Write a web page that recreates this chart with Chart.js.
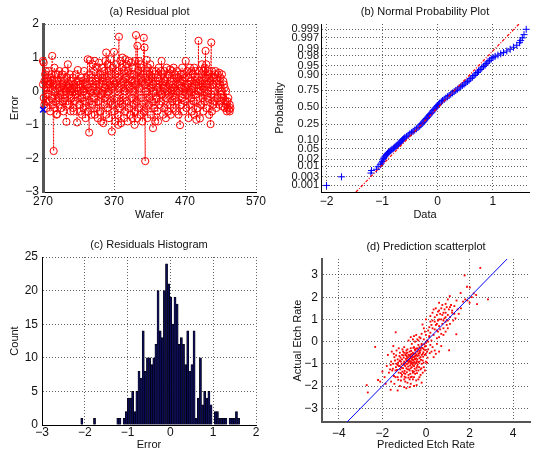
<!DOCTYPE html>
<html><head><meta charset="utf-8">
<script src="https://cdn.jsdelivr.net/npm/chart.js@4"></script>
<style>
html,body{margin:0;padding:0;background:#fff;}
#wrap{position:relative;width:534px;height:455px;overflow:hidden;background:#fff;}
#wrap canvas{position:absolute;left:0;top:0;}
</style></head><body>
<div id="wrap">
<canvas id="ca" width="534" height="455"></canvas>
<canvas id="cb" width="534" height="455"></canvas>
<canvas id="cc" width="534" height="455"></canvas>
<canvas id="cd" width="534" height="455"></canvas>
</div>
<script>
// ---------- (a) Residual plot ----------
const firstWafer = 270;
const residualsByWafer = [
[0.2,0.9],[0.85,-0.2],[0.3,-0.4],[0.5],[-0.3,0.6],[0.1,-0.5],[0.4],[-0.1,0.3],[0.6,-0.3],[0.2],
[-0.6,0.4],[0.1],[0.5,-0.2],[1.05,0.3],[-0.4],[-1.78,0.2],[0.7,-0.5],[0.0],[-0.3,0.5],[0.2,-0.7],
[-0.68,0.3],[0.5],[-0.2,0.1],[0.6,-0.4],[0.0],[0.4,-0.1],[-0.5],[0.2,0.5],[-0.3],[0.1,-0.6],
[0.3],[-0.2,0.6],[0.0],[-0.91,0.2],[0.4,-0.3],[0.8,0.1],[-0.4],[0.2,-0.1],[0.5],[-0.6,0.0],
[0.3,-0.2],[0.1],[-0.5,0.4],[-0.6],[0.2,0.0],[-0.3],[0.5,-0.1],[0.1],[-0.93,0.3],[0.63,-0.2],
[0.0],[-0.4,0.3],[0.2],[-0.6,0.1],[0.4],[-0.2,-0.7],[0.3],[0.0,-0.5],[0.6],[-0.3,0.2],
[-0.8],[0.4,-0.1],[0.2],[0.95,-0.6],[0.1],[-1.23,0.5],[0.92,-0.3],[0.0],[-0.7,0.4],[0.3],
[-0.4,0.8],[0.1],[-0.2,0.6],[0.9,-0.7],[0.3],[-0.5,0.2],[0.7],[-0.8,0.0],[0.4,-0.3],[0.85],
[-0.6,0.2],[0.5],[-0.1,-0.9],[0.7],[0.0,0.4],[-0.95,0.3],[0.6],[-0.4,0.1],[0.9,-0.2],[1.15,-0.7],
[0.3],[-0.5,0.8],[0.0],[0.6,-0.8],[0.2],[-0.3,0.95],[0.5],[-1.2,0.1],[0.7,-0.4],[0.3],
[1.17,-0.6],[0.2],[-0.9,0.5],[0.8],[-0.2,0.3],[0.6,-0.7],[-1.0,0.4],[1.62,0.1],[-0.5],[0.9,-0.3],
[0.2,-0.95],[0.7],[-0.4,1.0],[0.3],[-0.8,0.6],[0.0],[0.95,-0.6],[0.4],[-0.3,0.8],[-0.9,0.2],
[0.6],[-0.5,0.9],[0.1],[-0.7,0.5],[0.85],[-0.2,0.3],[0.7,-0.8],[0.0],[0.5,-0.4],[-1.0,0.3],
[0.9,-0.6],[1.67,0.2],[-0.3],[1.35,-0.8],[0.6],[-0.5,0.9],[0.1],[0.8,-0.7],[-0.2,0.4],[0.7],
[-0.9,0.3],[0.5],[1.59,-0.6],[1.3,0.2],[-2.08,0.4],[0.0,-0.5],[0.93,0.6],[-0.8],[0.3,0.7],[-0.4],
[0.5,-0.2],[0.8],[-0.7,0.1],[0.4],[-0.3,0.6],[-1.1,0.2],[0.0],[0.5,-0.5],[-0.9],[0.3,0.6],
[-0.2],[0.4,-0.6],[-0.9,0.1],[0.7],[-0.4,0.3],[0.0],[0.6,-0.3],[0.9,-0.1],[0.2],[-0.7,0.5],
[0.1],[-0.5,0.6],[0.3],[-0.2,-0.8],[0.7],[0.0,0.4],[-0.6],[0.5,-0.1],[0.2],[-0.4,0.65],
[0.3,-0.7],[0.0],[0.6,-0.3],[0.2],[-0.5,0.7],[0.1],[-0.2,0.5],[-0.6],[0.4,0.0],[-0.3,0.6],
[0.2],[-0.7,0.4],[0.0],[-1.01,0.3],[0.5],[-0.4,0.1],[0.7,-0.2],[0.3],[-0.6,0.5],[0.0],
[0.4,-0.3],[0.9,0.1],[-0.5],[0.6,-0.1],[0.2],[-0.8,0.4],[0.0],[0.7,-0.4],[0.3],[-0.2,0.6],
[-0.6],[0.5,0.1],[-0.3],[0.7,-0.7],[0.2],[-0.1,0.6],[-0.85,0.3],[0.4],[0.0,-0.5],[1.5,0.2],
[0.6],[-0.81,0.3],[0.0],[0.5,-0.4],[0.8],[-0.2,0.2],[0.6,-0.6],[0.1],[0.7,-0.3],[1.2,0.4],
[-0.5,0.8],[0.2],[-0.2,0.6],[0.0],[0.4,-0.7],[0.5],[-0.98,0.3],[1.45,-0.1],[-0.6,0.6],[0.2],
[0.4,-0.4],[0.0],[-0.3,0.5],[0.6],[-0.5,0.2],[0.3],[0.5,-0.2],[0.1],[-0.4,0.55],[0.2],
[0.4,-0.3],[-0.1],[0.5,0.0],[-0.45],[0.3,-0.2],[0.2],[-0.5,0.1],[-0.3],[0.0,-0.4],[-0.6],
[-0.3,-0.5],[-0.2],[-0.55],[-0.6,-0.4],[-0.5]
];
const markedWafer = [270];
const markedError = [-0.55];
const waferTicks = [270, 370, 470, 570];
const errorTicks = [-3, -2, -1, 0, 1, 2];

// ---------- (b) Normal probability plot: [data value, normal quantile] ----------
const probPoints = [
[-2.0,-3.09],[-1.73,-2.75],[-1.2,-2.6],[-1.19,-2.5],[-1.1,-2.45],[-1.07,-2.35],[-1.03,-2.27],[-1.01,-2.2],
[-0.99,-2.14],[-0.98,-2.08],[-0.97,-2.02],[-0.96,-1.97],[-0.94,-1.92],[-0.92,-1.87],[-0.9,-1.82],[-0.88,-1.78],
[-0.86,-1.74],[-0.84,-1.7],[-0.82,-1.66],[-0.79,-1.62],[-0.77,-1.58],[-0.75,-1.54],[-0.73,-1.5],[-0.71,-1.46],
[-0.69,-1.42],[-0.67,-1.38],[-0.65,-1.33],[-0.63,-1.28],[-0.61,-1.24],[-0.59,-1.2],[-0.56,-1.15],[-0.53,-1.1],
[-0.5,-1.05],[-0.47,-1.0],[-0.44,-0.95],[-0.41,-0.9],[-0.38,-0.85],[-0.35,-0.79],[-0.32,-0.74],[-0.3,-0.69],
[-0.28,-0.64],[-0.26,-0.59],[-0.24,-0.54],[-0.22,-0.49],[-0.2,-0.44],[-0.18,-0.39],[-0.16,-0.34],[-0.14,-0.29],
[-0.12,-0.24],[-0.1,-0.19],[-0.08,-0.13],[-0.06,-0.08],[-0.04,-0.03],[-0.02,0.02],[0.0,0.07],[0.02,0.12],
[0.04,0.17],[0.07,0.22],[0.09,0.27],[0.12,0.32],[0.15,0.37],[0.18,0.42],[0.21,0.47],[0.24,0.52],
[0.27,0.57],[0.3,0.62],[0.33,0.67],[0.36,0.72],[0.39,0.77],[0.42,0.82],[0.45,0.87],[0.48,0.92],
[0.51,0.97],[0.54,1.02],[0.57,1.08],[0.6,1.14],[0.63,1.2],[0.66,1.26],[0.69,1.32],[0.72,1.38],
[0.74,1.44],[0.77,1.5],[0.8,1.56],[0.83,1.62],[0.86,1.68],[0.88,1.74],[0.91,1.8],[0.94,1.86],
[0.97,1.92],[1.0,1.97],[1.04,2.02],[1.09,2.07],[1.14,2.12],[1.19,2.17],[1.25,2.23],[1.31,2.3],
[1.37,2.38],[1.43,2.46],[1.48,2.56],[1.5,2.65],[1.53,2.75],[1.56,2.88],[1.6,3.09]
];
const probRefLine = [[-1.47,-3.35],[1.47,3.3]];
const probTickLabels = ['0.001','0.003','0.01','0.02','0.05','0.10','0.25','0.50','0.75','0.90','0.95','0.98','0.99','0.997','0.999'];
const probTickQuantiles = [-3.090,-2.748,-2.326,-2.054,-1.645,-1.282,-0.674,0,0.674,1.282,1.645,2.054,2.326,2.748,3.090];
const dataTicks = [-2, -1, 0, 1];

// ---------- (c) Residuals histogram ----------
const histFirstCenter = -2.07;
const histBinWidth = 0.0495;
const histCounts = [
1,0,0,0,0,0,1,0,0,0,
0,0,0,0,0,0,0,1,1,0,
1,2,4,4,5,2,5,8,7,14,
8,10,10,9,10,12,20,14,13,20,
24,21,19,15,19,18,12,13,12,9,
14,8,9,14,1,4,10,3,5,4,
5,3,0,2,2,1,1,1,1,0,
1,1,1,2,1
];
const histXTicks = [-3, -2, -1, 0, 1, 2];
const histYTicks = [0, 5, 10, 15, 20, 25];

// ---------- (d) Prediction scatterplot: [predicted, actual] ----------
const scatterPairs = [
[2.49,3.32],[1.77,2.98],[1.88,2.47],[2.01,2.44],[2.84,1.9],[2.34,1.69],[2.19,2.17],[1.59,2.19],[1.09,2.05],
[-2.33,-0.24],[-1.39,0.42],[-2.72,-1.96],[-2.67,-2.29],[-2.2,-1.73],[-1.62,-2.17],[-0.43,-1.96],[1.06,-0.39],
[1.39,0.33],[-0.16,0.77],
[2.1,2.0],[1.9,1.85],[1.6,1.5],[1.45,1.45],[1.3,1.6],[1.2,1.3],[1.0,1.9],[0.9,1.7],[1.1,1.1],[1.35,1.05],
[1.5,1.25],[1.7,1.8],[2.3,2.1],[2.0,1.75],[1.8,1.9],
[0.2,0.4],[0.4,0.9],[0.5,1.2],[0.6,0.7],[0.7,1.0],[0.8,1.3],[0.9,0.9],[1.0,1.2],[0.3,0.6],[0.5,0.5],
[0.6,1.4],[0.8,0.6],[0.4,1.1],[0.7,1.5],[0.9,1.1],[1.1,0.8],[0.2,0.9],[0.35,0.3],[0.55,0.95],[0.75,0.8],
[0.65,1.25],[0.85,1.45],[0.45,0.75],[1.0,0.6],[0.3,1.3],[0.15,0.2],[0.6,0.2],[0.8,0.3],[1.2,1.4],[0.95,1.55],
[0.5,-0.1],[0.4,-0.4],[0.7,-0.2],[0.3,-0.25],[0.1,0.5],[0.0,1.0],[0.25,0.05],[0.0,0.3],[-0.1,0.6],[0.45,1.5],
[0.75,1.2],[1.25,0.95],[0.55,0.45],[0.9,0.45],
[-0.3,0.2],[-0.2,-0.1],[-0.1,0.1],[0.0,-0.2],[0.1,0.0],[-0.4,-0.3],[-0.5,0.0],[-0.3,-0.5],[-0.2,0.35],
[0.05,-0.45],[-0.15,-0.3],[-0.45,0.3],[-0.6,0.1],[-0.05,-0.6],[0.1,-0.35],[-0.35,-0.15],[-0.25,-0.7],
[0.2,-0.15],[-0.55,-0.25],[-0.7,0.2],[-0.15,-0.85],[0.15,0.25],[-0.65,-0.1],[-0.4,0.1],
[-1.5,-1.0],[-1.4,-1.3],[-1.3,-0.8],[-1.2,-1.1],[-1.1,-0.6],[-1.0,-0.9],[-0.9,-1.2],[-0.8,-0.7],[-0.7,-1.0],
[-0.6,-0.5],[-0.5,-0.8],[-0.4,-1.1],[-0.3,-0.9],
[-1.45,-0.7],[-1.35,-1.0],[-1.25,-1.4],[-1.15,-0.9],[-1.05,-1.2],[-0.95,-0.6],[-0.85,-1.0],[-0.75,-1.3],
[-0.65,-0.8],[-0.55,-1.1],[-0.45,-0.6],[-0.35,-1.3],[-0.25,-0.4],
[-1.55,-1.3],[-1.3,-1.6],[-1.2,-0.5],[-1.1,-1.5],[-1.0,-1.7],[-0.9,-0.4],[-0.8,-1.5],[-0.7,-0.3],[-0.6,-1.4],
[-0.5,-0.4],[-0.4,-0.8],[-0.3,-1.6],[-0.2,-1.0],
[-1.25,-0.3],[-1.15,-1.75],[-1.05,-0.45],[-0.95,-1.45],[-0.85,-0.5],[-0.75,-1.7],[-0.65,-0.55],[-0.55,-1.6],
[-0.45,-1.3],[-0.35,-0.55],[-0.25,-1.25],[-0.15,-1.4],
[-1.0,-1.05],[-0.9,-0.85],[-0.8,-0.95],[-0.7,-0.75],[-0.6,-0.95],[-0.5,-0.65],[-0.4,-0.45],[-0.3,-0.75],
[-0.95,-1.1],[-0.85,-0.75],[-0.75,-0.9],[-0.65,-1.15],[-0.55,-0.7],[-0.45,-0.95],[-0.35,-0.35],
[-1.1,-0.8],[-1.0,-0.5],[-0.9,-1.0],[-0.8,-0.6],[-0.7,-1.2],[-0.6,-0.7],[-0.5,-1.0],[-0.4,-0.65],[-0.3,-0.25],[-0.2,-0.6],
[-1.6,-0.9],[-1.7,-1.4],[-1.8,-1.1],[-1.9,-1.6],[-1.75,-0.6],[-1.6,-1.8],[-1.45,-1.9],[-1.35,-0.4],[-1.5,-0.2],
[-1.2,-2.0],[-1.0,-2.05],[-0.85,-1.85],[-0.7,-1.9],[-0.55,-2.0],[-0.45,-1.75],[-0.25,-1.5],[-0.1,-1.15],[0.0,-0.9],
[-0.05,-1.3],[-2.0,-1.35],[-2.1,-1.8],[-1.85,-1.9],[-1.3,-2.2],[-0.9,-2.1],[-0.6,-1.7],
[-0.78,-0.82],[-0.72,-0.65],[-0.68,-0.92],[-0.62,-0.62],[-0.88,-0.68],[-0.92,-0.78],[-0.58,-0.85],[-0.82,-1.12],
[-1.02,-0.72],[-0.48,-0.52],[-0.52,-1.22],[-0.42,-0.88],[-1.12,-1.02],[-1.18,-1.25],[-0.98,-1.32],[-0.38,-1.02],
[-0.28,-0.5],[-0.18,-0.28],[-0.12,-0.48],[-0.08,-0.12],
[-1.28,-0.95],[-1.38,-1.15],[-1.42,-0.85],[-1.22,-0.65],[-1.08,-0.35],[-0.68,-0.42],[-0.58,-0.28],[-0.62,-1.32],
[-0.72,-1.45],[-0.78,-1.25],[-0.88,-1.38],[-0.98,-1.58],[-1.08,-1.35],[-0.5,-1.45],[-0.32,-1.15],
[-1.62,-1.05],[-1.52,-1.22],[-1.48,-0.55],[-1.33,-1.28],[-1.27,-1.72],[-1.17,-0.72],[-1.13,-1.58],[-1.03,-0.98],
[-0.93,-1.62],[-0.83,-0.88],[-0.73,-1.08],[-0.63,-0.72],[-0.53,-0.92],[-0.43,-1.18],[-0.33,-0.62],[-0.23,-0.82],
[-0.13,-0.68],[-0.03,-0.38],[0.07,-0.72],[0.17,-0.52],
[-1.57,-0.45],[-1.47,-1.55],[-1.37,-0.62],[-1.21,-0.88],[-1.11,-1.18],[-1.01,-1.42],[-0.91,-0.52],[-0.81,-1.62],
[-0.71,-0.58],[-0.61,-1.05],[-0.51,-0.35],[-0.41,-1.42],[-0.31,-0.42],[-0.21,-1.2],[-0.11,-0.95],[-0.01,-0.55],
[-1.05,-0.62],[-0.95,-0.95],[-0.85,-1.25],[-0.75,-0.62],[-0.65,-0.98],[-0.55,-0.55],[-0.45,-0.75],[-0.35,-0.92],
[-0.25,-0.32],[-0.15,-0.55],[-0.05,-0.22],[0.05,0.05],
[-1.25,-1.1],[-1.15,-1.42],[-0.95,-1.8],[-0.75,-2.05],[-0.65,-1.58],[-0.35,-1.7],[-0.2,-1.85],[-1.4,-1.6],[-1.65,-1.25],
[0.3,0.95],[0.55,1.35],[0.65,0.55],[0.85,1.05],[1.05,1.45],[1.15,1.65],[0.95,0.75],[0.4,0.55],[0.6,1.0],[0.75,1.65],
[0.25,0.75],[0.5,0.8],[1.3,1.25],[1.4,1.85],[0.7,0.35],[0.2,1.15],[0.15,0.65],[-0.05,0.45],[0.35,1.45],[0.6,1.75],
[0.9,1.3],[1.1,1.55],[0.45,-0.55],[0.35,-0.7],[0.6,-0.45],[0.5,0.15],[0.8,0.95],[1.0,0.95],[0.25,-0.45],[0.05,-0.95],
[-0.9,-0.62],[-0.8,-0.82],[-0.7,-0.88],[-0.6,-0.82],[-0.5,-0.78],[-0.75,-0.45],[-0.85,-0.35],[-0.45,-0.32],
[-0.55,-1.35],[-0.7,-1.6],[-1.0,-0.25],[-1.2,-0.85],[-1.3,-1.05],[-0.2,-0.15],[-0.1,-0.35],[0.0,-0.05],
[-0.35,0.05],[-0.25,0.15],[-0.55,0.25],[-0.8,0.05]
];
const identityLineEnds = [-5, 5];
const predictedTicks = [-4, -2, 0, 2, 4];
const actualTicks = [-3, -2, -1, 0, 1, 2, 3];

// ---------- drawing ----------
const FAMILY = "'Liberation Sans', Arial, Helvetica, sans-serif";
const TEXT = '#111';
const GRID = 'rgba(0,0,0,0.62)';
const TITLE_SIZE = 11, LABEL_SIZE = 11, TICK_SIZE = 12;
const W = 534, H = 455;

function signed(v){ return v < 0 ? '\u2212' + Math.abs(v) : String(v); }

function axis(o){
  const isX = o.dir === 'x';
  return {
    type: 'linear', position: isX ? 'bottom' : 'left',
    min: o.min, max: o.max, offset: false,
    grid: { color: GRID, lineWidth: 1, drawTicks: false, offset: false, borderDash: [1, 2] },
    border: { display: true, color: o.borderColor || '#000', width: o.borderWidth || 1, dash: [1, 2] },
    ticks: {
      autoSkip: false, maxRotation: 0, minRotation: 0, padding: o.tickPad,
      color: TEXT, font: { family: FAMILY, size: o.tickSize || TICK_SIZE },
      callback: o.labels ? (v, i) => o.labels[i] : (v) => signed(v)
    },
    title: { display: true, text: o.title, color: TEXT, font: { family: FAMILY, size: LABEL_SIZE },
      padding: isX ? { top: 0, bottom: o.titlePad } : { top: o.titlePad, bottom: 0 } },
    afterBuildTicks: (s) => { s.ticks = o.ticks.map(v => ({ value: v })); },
    afterFit: (s) => {
      if (isX) s.height = o.size; else s.width = o.size;
      s.paddingLeft = 0; s.paddingRight = 0; s.paddingTop = 0; s.paddingBottom = 0;
    }
  };
}

function panel(id, p, type, datasets, xo, yo){
  const lh = TITLE_SIZE * 1.2;
  const tPadTop = p.titleY - lh / 2 - p.top;
  const tPadBottom = p.T - p.top - tPadTop - lh;
  const lhL = LABEL_SIZE * 1.2, lhT = TICK_SIZE * 1.2;
  xo.dir = 'x'; yo.dir = 'y';
  xo.size = p.xH; yo.size = p.yW;
  xo.titlePad = (p.B + p.xH) - p.xTitleY - lhL / 2;
  yo.titlePad = p.yTitleX - (p.L - p.yW) - lhL / 2;
  xo.tickPad = p.xTickY - p.B - lhT / 2;
  yo.tickPad = p.yTickPad;
  return new Chart(document.getElementById(id), {
    type: type,
    data: { datasets: datasets },
    options: {
      responsive: false, animation: false, devicePixelRatio: 1,
      layout: { padding: { left: p.L - p.yW, top: p.top, right: W - p.R, bottom: H - p.B - p.xH } },
      plugins: {
        legend: { display: false }, tooltip: { enabled: false },
        title: { display: true, text: p.title, fullSize: false, color: TEXT,
          font: { family: FAMILY, size: TITLE_SIZE, weight: 'normal' },
          padding: { top: tPadTop, bottom: tPadBottom } }
      },
      scales: { x: axis(xo), y: axis(yo) }
    }
  });
}

// (a)
const residualPoints = [];
residualsByWafer.forEach((vals, i) => vals.forEach(v => residualPoints.push({ x: firstWafer + i, y: v })));
panel('ca', { title: '(a) Residual plot', L: 43, T: 24, R: 256, B: 192, top: 0, titleY: 12.3,
  yW: 40, xH: 32, yTitleX: 15, xTitleY: 215, xTickY: 201.7, yTickPad: 4 }, 'scatter', [
  { data: markedWafer.map((w, i) => ({ x: w, y: markedError[i] })), pointStyle: 'crossRot', pointRadius: 4,
    borderColor: '#0000ff', backgroundColor: '#0000ff', borderWidth: 1.5, showLine: false, clip: false },
  { data: residualPoints, showLine: true, borderColor: '#ff0000', borderWidth: 1, borderDash: [1.5, 1.5],
    pointStyle: 'circle', pointRadius: 3.6, pointBorderColor: '#ff0000', pointBackgroundColor: 'rgba(0,0,0,0)',
    pointBorderWidth: 1, clip: 6 }
], { min: 270, max: 570, ticks: waferTicks, title: 'Wafer' },
   { min: -3, max: 2, ticks: errorTicks, title: 'Error', borderColor: '#555', borderWidth: 3 });

// (b)
panel('cb', { title: '(b) Normal Probability Plot', L: 321, T: 24, R: 533, B: 192, top: 0, titleY: 12.3,
  yW: 51, xH: 32, yTitleX: 280, xTitleY: 215, xTickY: 201.7, yTickPad: 2 }, 'scatter', [
  { data: probRefLine.map(q => ({ x: q[0], y: q[1] })), showLine: true, borderColor: '#ff0000', borderWidth: 1.2,
    borderDash: [3, 1.5, 1, 1.5], pointRadius: 0 },
  { data: probPoints.map(q => ({ x: q[0], y: q[1] })), showLine: false, pointStyle: 'cross', pointRadius: 3.5,
    borderColor: '#0000ff', backgroundColor: '#0000ff', borderWidth: 1, clip: 5 }
], { min: -2.1, max: 1.65, ticks: dataTicks, title: 'Data' },
   { min: -3.35, max: 3.3, ticks: probTickQuantiles, labels: probTickLabels, title: 'Probability', tickSize: 11 });

// (c)
const histBars = histCounts.map((c, i) => ({ x: histFirstCenter + i * histBinWidth, y: c }));
panel('cc', { title: '(c) Residuals Histogram', L: 42, T: 257, R: 256, B: 425, top: 230, titleY: 245,
  yW: 39, xH: 29, yTitleX: 15, xTitleY: 445, xTickY: 433, yTickPad: 4 }, 'bar', [
  { data: histBars, backgroundColor: '#0b0b55', borderColor: '#000000', borderWidth: 0.6,
    barPercentage: 1, categoryPercentage: 1 }
], { min: -3, max: 2, ticks: histXTicks, title: 'Error' },
   { min: 0, max: 25, ticks: histYTicks, title: 'Count' });

// (d)
panel('cd', { title: '(d) Prediction scatterplot', L: 322, T: 259, R: 533, B: 422, top: 230, titleY: 246.7,
  yW: 34, xH: 32, yTitleX: 298.3, xTitleY: 445, xTickY: 433.3, yTickPad: 4 }, 'scatter', [
  { data: identityLineEnds.map(v => ({ x: v, y: v })), showLine: true, borderColor: '#0000ff', borderWidth: 1,
    pointRadius: 0 },
  { data: scatterPairs.map(q => ({ x: q[0], y: q[1] })), showLine: false, pointStyle: 'rect', pointRadius: 1.3,
    borderWidth: 0, backgroundColor: '#ff0000', borderColor: '#ff0000' }
], { min: -4.77, max: 4.77, ticks: predictedTicks, title: 'Predicted Etch Rate', borderColor: '#555', borderWidth: 2 },
   { min: -3.62, max: 3.72, ticks: actualTicks, title: 'Actual Etch Rate', borderColor: '#555', borderWidth: 2 });
</script>
</body></html>
